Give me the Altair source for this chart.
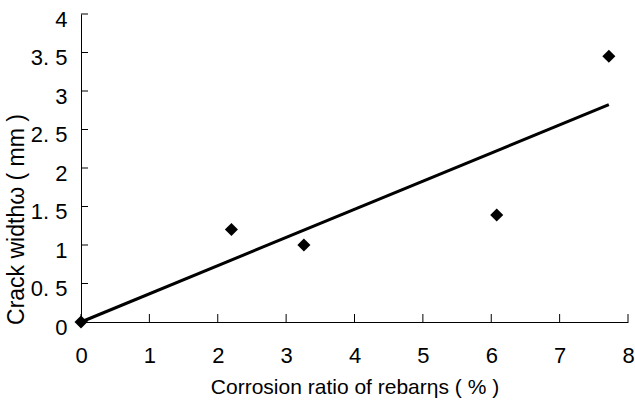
import altair as alt
import pandas as pd

# data
corrosion = [0.0, 2.2, 3.26, 6.08, 7.72]
crack = [0.0, 1.2, 1.0, 1.39, 3.45]
x_ticks = [0, 1, 2, 3, 4, 5, 6, 7, 8]
y_ticks = [0, 0.5, 1, 1.5, 2, 2.5, 3, 3.5, 4]

pts = pd.DataFrame({"x": corrosion, "y": crack})

# linear trend line through the origin (least squares)
slope = sum(a * b for a, b in zip(corrosion, crack)) / sum(a * a for a in corrosion)
trend = pd.DataFrame({"x": [0.0, max(corrosion)], "y": [0.0, slope * max(corrosion)]})

xt = pd.DataFrame({"x": x_ticks, "y": [0] * len(x_ticks)})
yt = pd.DataFrame({"y": y_ticks, "x": [0] * len(y_ticks)})

FONT = "Liberation Sans, Arial, sans-serif"
xs = alt.Scale(domain=[0, 8], nice=False, zero=False)
ys = alt.Scale(domain=[0, 4], nice=False, zero=False)

xaxis = alt.Axis(values=x_ticks, ticks=False, tickSize=0, grid=False, domainColor="black",
                 format="d", labelFlush=False, labelOverlap=False,
                 labelFont=FONT, labelFontSize=22, labelColor="black", labelPadding=23,
                 title="Corrosion ratio of rebarηs ( % )", titleFont=FONT, titleFontSize=21,
                 titleFontWeight="normal", titleColor="black", titlePadding=10)
yaxis = alt.Axis(values=y_ticks, ticks=False, tickSize=0, grid=False, domainColor="black",
                 labelOverlap=False, labelFlush=False, labelOffset=5,
                 labelExpr="replace(toString(datum.value), '.', '. ')",
                 labelFont=FONT, labelFontSize=22, labelColor="black", labelPadding=14,
                 title="Crack widthω ( mm )", titleFont=FONT, titleFontSize=23,
                 titleFontWeight="normal", titleColor="black",
                 titleX=-53, titleY=205)

X = alt.X("x:Q", scale=xs, axis=xaxis)
Y = alt.Y("y:Q", scale=ys, axis=yaxis)

base_pts = alt.Chart(pts).mark_point(shape="diamond", filled=True, size=170, color="black", opacity=1).encode(x=X, y=Y)

line = alt.Chart(trend).mark_line(color="black", strokeWidth=3).encode(x=X, y=Y)

xtick = alt.Chart(xt).mark_tick(orient="vertical", size=8, thickness=1, color="black", yOffset=-4, opacity=1).encode(x=X, y=Y)
ytick = alt.Chart(yt).mark_tick(orient="horizontal", size=7, thickness=1, color="black", xOffset=3.5, opacity=1).encode(x=X, y=Y)

chart = alt.layer(base_pts, xtick, ytick, line).properties(
    width=547, height=308,
    padding={"left": 81, "top": 14, "right": 7, "bottom": 87},
    autosize=alt.AutoSizeParams(type="none"),
    background="white",
).configure_view(stroke=None)

chart.save("out.html", embed_options={"renderer": "svg", "actions": False})
